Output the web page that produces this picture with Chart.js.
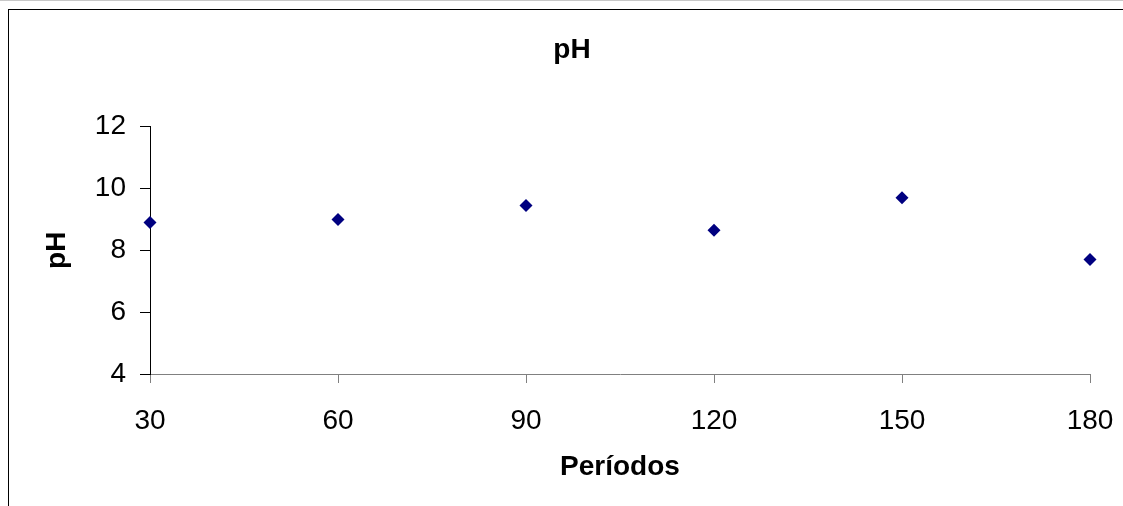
<!DOCTYPE html>
<html>
<head>
<meta charset="utf-8">
<script src="https://cdn.jsdelivr.net/npm/chart.js@4.4.1/dist/chart.umd.min.js"></script>
<style>
  html, body { margin: 0; padding: 0; background: #fff; overflow: hidden; }
  #wrap { position: relative; width: 1123px; height: 506px; }
  #frame { position: absolute; left: 8px; top: 9px; width: 1130px; height: 510px;
           border-left: 1px solid #000; border-top: 1px solid #000; pointer-events: none; }
  #edge { position: absolute; left: 0; top: 0; width: 1123px; height: 0; border-top: 1px solid #c8c8c8; }
</style>
</head>
<body>
<div id="wrap">
  <canvas id="c" width="1123" height="506"></canvas>
  <div id="frame"></div>
  <div id="edge"></div>
</div>
<script>
// periodos and pH readings
var periodos = [30, 60, 90, 120, 150, 180];
var phValues = [8.9, 9.0, 9.45, 8.65, 9.7, 7.7];
var yTicks = [4, 6, 8, 10, 12];

var fam = '"Liberation Sans", Arial, sans-serif';

var pts = periodos.map(function(p, i) { return { x: p, y: phValues[i] }; });

new Chart(document.getElementById('c'), {
  type: 'scatter',
  data: {
    datasets: [{
      label: 'pH',
      data: pts,
      clip: false,
      pointStyle: 'rectRot',
      pointRadius: 6.5,
      pointBackgroundColor: '#000080',
      pointBorderColor: '#000080',
      pointBorderWidth: 0
    }]
  },
  options: {
    responsive: false,
    animation: false,
    devicePixelRatio: 1,
    layout: { padding: { left: 54, right: 33, top: 0, bottom: 0 } },
    plugins: {
      legend: { display: false },
      tooltip: { enabled: false },
      title: {
        display: true,
        text: 'pH',
        color: '#000',
        font: { family: fam, size: 28, weight: 'bold' },
        padding: { top: 33, bottom: 60 }
      }
    },
    scales: {
      x: {
        type: 'linear',
        min: 30,
        max: 180,
        afterFit: function(s) { s.height = 132; s.paddingLeft = 0; s.paddingRight = 0; },
        afterBuildTicks: function(s) { s.ticks = periodos.map(function(v) { return { value: v }; }); },
        grid: { drawOnChartArea: false, drawTicks: true, tickLength: 9, color: '#808080' },
        border: { display: true, color: '#808080', width: 1 },
        ticks: { color: '#000', font: { family: fam, size: 28 }, padding: 21, maxRotation: 0 },
        title: {
          display: true,
          text: 'Períodos',
          color: '#000',
          font: { family: fam, size: 28, weight: 'bold' },
          padding: { top: 0, bottom: 22 }
        }
      },
      y: {
        min: 4,
        max: 12,
        afterFit: function(s) { s.width = 96; },
        afterBuildTicks: function(s) { s.ticks = yTicks.map(function(v) { return { value: v }; }); },
        grid: { drawOnChartArea: false, drawTicks: true, tickLength: 10, color: '#000' },
        border: { display: true, color: '#000', width: 1 },
        ticks: { color: '#000', font: { family: fam, size: 28 }, padding: 14 },
        title: {
          display: true,
          text: 'pH',
          color: '#000',
          font: { family: fam, size: 28, weight: 'bold' },
          padding: { top: -14, bottom: -14 }
        }
      }
    }
  }
});
</script>
</body>
</html>
